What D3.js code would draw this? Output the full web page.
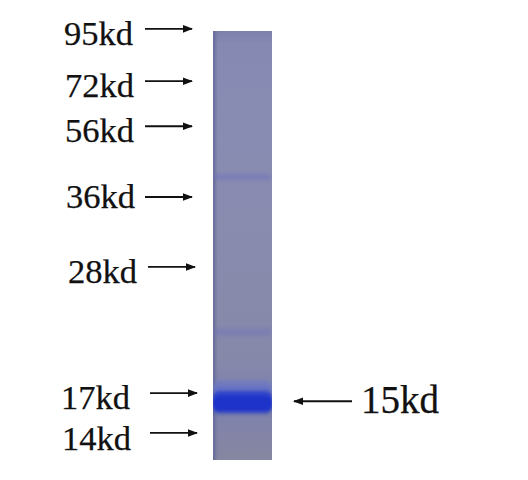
<!DOCTYPE html>
<html>
<head>
<meta charset="utf-8">
<script src="https://cdn.jsdelivr.net/npm/d3@7"></script>
<style>
  html, body { margin: 0; background: #fff; }
  svg { display: block; }
  text { font-family: "Liberation Serif", serif; fill: #111; stroke: #111; stroke-width: 0.25px; }
</style>
</head>
<body>
<svg id="gel" width="528" height="480"></svg>
<script>
// ladder (migration = % of lane length from the top)
const markers = ["95kd", "72kd", "56kd", "36kd", "28kd", "17kd", "14kd"];
const markerMigration = [-0.5, 11.7, 22.2, 38.7, 55, 84.4, 93.7];

// the target band
const targetLabel = ["15kd"];
const targetMigration = [86.3];

// lane background colour down the gel
const laneStops = [0, 3, 25, 50, 75, 88, 95, 100];
const laneColors = ["#7d80ab", "#8689b2", "#898cb2", "#898bae", "#8789aa", "#7d82ac", "#8485a6", "#85869f"];

// stained bands: centre, thickness in %, colour, opacity
const bandMigration = [34.0, 70.2, 83.3, 86.2, 87.0];
const bandThickness = [0.8, 1.6, 3.4, 4.6, 3.6];
const bandColors = ["#6468c0", "#7074b6", "#6a76c6", "#2a40cc", "#1a30c8"];
const bandOpacity = [0.75, 0.6, 0.85, 1, 1];

const width = 528, height = 480;
const lane = { x0: 213, x1: 272, y0: 31, y1: 460 };

// hand placement of the pasted labels and arrows, they do not line up exactly
const labelDx = [-1, 0, 0, 1, 3, -4, -3];
const labelDy = [16, 16, 16, 11, 16, 16, 17];
const arrowDx = [0, 0, 0, 0, 3, 5, 5];

const svg = d3.select("#gel");
const y = d3.scaleLinear().domain([0, 100]).range([lane.y0, lane.y1]);

const defs = svg.append("defs");

const laneGrad = defs.append("linearGradient")
  .attr("id", "laneGrad")
  .attr("x1", 0).attr("x2", 0).attr("y1", 0).attr("y2", 1);
laneGrad.selectAll("stop")
  .data(laneStops)
  .join("stop")
  .attr("offset", d => d + "%")
  .attr("stop-color", (d, i) => laneColors[i]);

// darker strip on the left edge of the lane
const edgeGrad = defs.append("linearGradient").attr("id", "edgeGrad");
edgeGrad.append("stop").attr("offset", "0%").attr("stop-color", "#5f6496").attr("stop-opacity", 0.8);
edgeGrad.append("stop").attr("offset", "100%").attr("stop-color", "#5f6496").attr("stop-opacity", 0);

defs.append("filter").attr("id", "soft")
  .attr("x", "-20%").attr("y", "-150%").attr("width", "140%").attr("height", "400%")
  .append("feGaussianBlur").attr("stdDeviation", "1.5 2.4");

defs.append("clipPath").attr("id", "laneClip")
  .append("rect")
  .attr("x", lane.x0).attr("y", lane.y0)
  .attr("width", lane.x1 - lane.x0).attr("height", lane.y1 - lane.y0);

defs.append("marker").attr("id", "head")
  .attr("markerUnits", "userSpaceOnUse")
  .attr("viewBox", "0 0 10 8")
  .attr("refX", 9).attr("refY", 4)
  .attr("markerWidth", 10).attr("markerHeight", 8)
  .attr("orient", "auto")
  .append("path").attr("d", "M0,0.2L10,4L0,7.8Z").attr("fill", "#111");

const gelG = svg.append("g").attr("clip-path", "url(#laneClip)");

gelG.append("rect")
  .attr("x", lane.x0).attr("y", lane.y0)
  .attr("width", lane.x1 - lane.x0).attr("height", lane.y1 - lane.y0)
  .attr("fill", "url(#laneGrad)");

gelG.append("rect")
  .attr("x", lane.x0).attr("y", lane.y0)
  .attr("width", 5).attr("height", lane.y1 - lane.y0)
  .attr("fill", "url(#edgeGrad)");

gelG.selectAll("rect.band")
  .data(bandMigration)
  .join("rect")
  .attr("class", "band")
  .attr("x", lane.x0)
  .attr("width", lane.x1 - lane.x0)
  .attr("y", (d, i) => y(d - bandThickness[i] / 2))
  .attr("height", (d, i) => y(bandThickness[i]) - y(0))
  .attr("rx", 6)
  .attr("fill", (d, i) => bandColors[i])
  .attr("opacity", (d, i) => bandOpacity[i])
  .attr("filter", "url(#soft)");

// ladder arrows + labels
svg.selectAll("line.marker")
  .data(markerMigration)
  .join("line")
  .attr("class", "marker")
  .attr("x1", (d, i) => 145 + arrowDx[i])
  .attr("x2", (d, i) => 192 + arrowDx[i])
  .attr("y1", d => y(d)).attr("y2", d => y(d))
  .attr("stroke", "#111").attr("stroke-width", 1.8)
  .attr("marker-end", "url(#head)");

svg.selectAll("text.marker")
  .data(markers)
  .join("text")
  .attr("class", "marker")
  .attr("x", (d, i) => 134 + labelDx[i])
  .attr("y", (d, i) => y(markerMigration[i]) + labelDy[i])
  .attr("text-anchor", "end")
  .attr("font-size", 34.5)
  .text(d => d);

// target arrow + label
svg.selectAll("line.target")
  .data(targetMigration)
  .join("line")
  .attr("class", "target")
  .attr("x1", 352).attr("x2", 294)
  .attr("y1", d => y(d)).attr("y2", d => y(d))
  .attr("stroke", "#111").attr("stroke-width", 1.8)
  .attr("marker-end", "url(#head)");

svg.selectAll("text.target")
  .data(targetLabel)
  .join("text")
  .attr("class", "target")
  .attr("x", 361)
  .attr("y", y(targetMigration[0]) + 12)
  .attr("font-size", 39)
  .text(d => d);
</script>
</body>
</html>
